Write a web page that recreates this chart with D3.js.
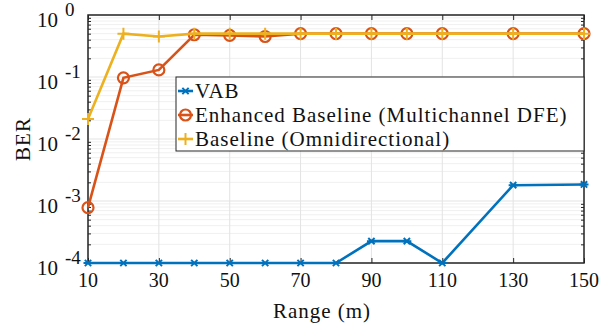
<!DOCTYPE html>
<html>
<head>
<meta charset="utf-8">
<script src="https://cdn.jsdelivr.net/npm/d3@7"></script>
<style>
  body { margin: 0; background: #fff; }
  text { font-family: "Liberation Serif", "DejaVu Serif", serif; fill: #111; }
</style>
</head>
<body>
<div id="chart"></div>
<script>
// data
var ranges = [10, 20, 30, 40, 50, 60, 70, 80, 90, 100, 110, 130, 150]
var vab = [1e-4, 1e-4, 1e-4, 1e-4, 1e-4, 1e-4, 1e-4, 1e-4, 2.25e-4, 2.25e-4, 1e-4, 1.8e-3, 1.85e-3]
var enhanced = [7.8e-4, 0.097, 0.13, 0.48, 0.47, 0.45, 0.5, 0.5, 0.5, 0.5, 0.5, 0.5, 0.5]
var baseline = [0.021, 0.5, 0.45, 0.5, 0.5, 0.5, 0.5, 0.5, 0.5, 0.5, 0.5, 0.5, 0.5]
var xTicks = [10, 30, 50, 70, 90, 110, 130, 150]
var yExps = [-4, -3, -2, -1, 0]
var seriesNames = ['VAB', 'Enhanced Baseline (Multichannel DFE)', 'Baseline (Omnidirectional)']

var width = 608
var height = 328
var pLeft = 88, pTop = 15, pRight = 584, pBottom = 263

var colors = ['#0072BD', '#D95319', '#EDB120']

var svg = d3.select('#chart').append('svg')
  .attr('width', width)
  .attr('height', height)

var x = d3.scaleLinear().domain([10, 150]).range([pLeft, pRight])
var y = d3.scaleLog().domain([1e-4, 1]).range([pBottom, pTop])

// minor grid
var minorVals = []
for (var e = -4; e < 0; e++) {
  for (var m = 2; m < 10; m++) minorVals.push(m * Math.pow(10, e))
}
svg.append('g').selectAll('line').data(minorVals).enter().append('line')
  .attr('x1', pLeft).attr('x2', pRight)
  .attr('y1', function(d) { return y(d) }).attr('y2', function(d) { return y(d) })
  .attr('stroke', '#f0f0f0').attr('stroke-width', 1)

// major grid
svg.append('g').selectAll('line').data(yExps).enter().append('line')
  .attr('x1', pLeft).attr('x2', pRight)
  .attr('y1', function(d) { return y(Math.pow(10, d)) }).attr('y2', function(d) { return y(Math.pow(10, d)) })
  .attr('stroke', '#e3e3e3').attr('stroke-width', 1)
svg.append('g').selectAll('line').data(xTicks).enter().append('line')
  .attr('x1', function(d) { return x(d) }).attr('x2', function(d) { return x(d) })
  .attr('y1', pTop).attr('y2', pBottom)
  .attr('stroke', '#e3e3e3').attr('stroke-width', 1)

// axes with inward ticks
var axisColor = '#262626'
svg.append('g').attr('transform', 'translate(0,' + pBottom + ')')
  .call(d3.axisBottom(x).tickValues(xTicks).tickSizeInner(-5).tickSizeOuter(0).tickFormat(''))
svg.append('g').attr('transform', 'translate(0,' + pTop + ')')
  .call(d3.axisTop(x).tickValues(xTicks).tickSizeInner(-5).tickSizeOuter(0).tickFormat(''))
svg.append('g').attr('transform', 'translate(' + pLeft + ',0)')
  .call(d3.axisLeft(y).tickValues(minorVals).tickSizeInner(-3).tickSizeOuter(0).tickFormat(''))
svg.append('g').attr('transform', 'translate(' + pRight + ',0)')
  .call(d3.axisRight(y).tickValues(minorVals).tickSizeInner(-3).tickSizeOuter(0).tickFormat(''))
svg.selectAll('.domain').remove()
svg.selectAll('.tick line').attr('stroke', axisColor)

svg.append('rect')
  .attr('x', pLeft).attr('y', pTop)
  .attr('width', pRight - pLeft).attr('height', pBottom - pTop)
  .attr('fill', 'none').attr('stroke', axisColor).attr('stroke-width', 1.5)

// tick labels
svg.append('g').selectAll('text').data(xTicks).enter().append('text')
  .attr('x', function(d) { return x(d) })
  .attr('y', 287)
  .attr('text-anchor', 'middle')
  .style('font-size', '20px')
  .text(function(d) { return d })

var yl = svg.append('g').selectAll('g').data(yExps).enter().append('g')
  .attr('transform', function(d) { return 'translate(0,' + y(Math.pow(10, d)) + ')' })
yl.append('text').attr('x', 37).attr('y', 12).style('font-size', '21px').text('10')
yl.append('text').attr('x', 65).attr('y', 1).style('font-size', '19px')
  .text(function(d) { return d === 0 ? ' 0' : d })

svg.append('text')
  .attr('transform', 'translate(30,' + ((pTop + pBottom) / 2) + ') rotate(-90)')
  .attr('text-anchor', 'middle')
  .style('font-size', '21px')
  .style('letter-spacing', '1px')
  .text('BER')

svg.append('text')
  .attr('x', 322).attr('y', 318)
  .attr('text-anchor', 'middle')
  .style('font-size', '21px')
  .style('letter-spacing', '1px')
  .text('Range (m)')

// lines + markers
var allSeries = [vab, enhanced, baseline]
var line = d3.line()
  .x(function(d, i) { return x(ranges[i]) })
  .y(function(d) { return y(d) })

function drawMarker(g, kind, cx, cy, color) {
  if (kind === 0) {
    var s = 4.5
    g.append('path')
      .attr('d', 'M' + (cx - s) + ',' + cy + 'H' + (cx + s) +
        'M' + (cx - s * 0.7) + ',' + (cy - s * 0.7) + 'L' + (cx + s * 0.7) + ',' + (cy + s * 0.7) +
        'M' + (cx - s * 0.7) + ',' + (cy + s * 0.7) + 'L' + (cx + s * 0.7) + ',' + (cy - s * 0.7))
      .attr('stroke', color).attr('stroke-width', 2).attr('fill', 'none')
  } else if (kind === 1) {
    g.append('circle').attr('cx', cx).attr('cy', cy).attr('r', 5.5)
      .attr('stroke', color).attr('stroke-width', 2.2).attr('fill', 'none')
  } else {
    var p = 6
    g.append('path')
      .attr('d', 'M' + (cx - p) + ',' + cy + 'H' + (cx + p) + 'M' + cx + ',' + (cy - p) + 'V' + (cy + p))
      .attr('stroke', color).attr('stroke-width', 2).attr('fill', 'none')
  }
}

allSeries.forEach(function(vals, k) {
  var g = svg.append('g')
  g.append('path').datum(vals)
    .attr('d', line)
    .attr('fill', 'none')
    .attr('stroke', colors[k])
    .attr('stroke-width', 2.6)
  vals.forEach(function(v, i) {
    drawMarker(g, k, x(ranges[i]), y(v), colors[k])
  })
})

// legend
var lg = svg.append('g')
lg.append('rect')
  .attr('x', 176).attr('y', 77).attr('width', 408).attr('height', 74)
  .attr('fill', '#fff').attr('stroke', axisColor).attr('stroke-width', 1)
seriesNames.forEach(function(name, k) {
  var yy = 91 + k * 24
  lg.append('line').attr('x1', 178).attr('x2', 193).attr('y1', yy).attr('y2', yy)
    .attr('stroke', colors[k]).attr('stroke-width', 2.6)
  drawMarker(lg, k, 185.5, yy, colors[k])
  lg.append('text').attr('x', 195).attr('y', yy + 6.5)
    .style('font-size', '21px')
    .style('letter-spacing', '1px')
    .text(name)
})
</script>
</body>
</html>
